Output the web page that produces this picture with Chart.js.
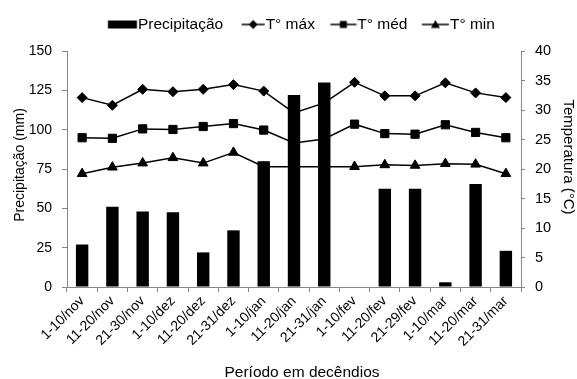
<!DOCTYPE html>
<html><head><meta charset="utf-8">
<script src="https://cdn.jsdelivr.net/npm/chart.js@4"></script>
<style>html,body{margin:0;padding:0;background:#fff;}#wrap{width:577px;height:379px;}</style>
</head><body><div id="wrap"><canvas id="c" width="577" height="379"></canvas></div>
<script>
const categories = ['1-10/nov','11-20/nov','21-30/nov','1-10/dez','11-20/dez','21-31/dez','1-10/jan','11-20/jan','21-31/jan','1-10/fev','11-20/fev','21-29/fev','1-10/mar','11-20/mar','21-31/mar'];
const precipitacao = [27,51,48,47.5,22,36,80,122,130,0,62.5,62.5,3,65.5,23];
const tMax = [32.1,30.8,33.5,33.1,33.5,34.3,33.2,29.5,31.2,34.7,32.4,32.4,34.6,32.9,32.1];
const tMed = [25.3,25.2,26.8,26.7,27.2,27.7,26.6,24.4,25.1,27.6,26.0,25.9,27.5,26.2,25.3];
const tMin = [19.2,20.3,21.0,21.9,21.0,22.8,20.4,20.4,20.4,20.4,20.7,20.6,20.9,20.8,19.2];
const seriesNames = ['Precipitação','T° máx','T° méd','T° min'];
const precipTicks = {min:0, max:150, step:25};
const tempTicks = {min:0, max:40, step:5};

const FONT = 'Liberation Sans, Arial, sans-serif';
const AXIS = '#868686';
const LEG_FS = 15.5;
const P_W = 16;          // legend pointStyleWidth
const IMG_W = 80, IMG_H = 16;
const CONTENT_END = IMG_W/2 + P_W/2 + LEG_FS/2 - 1;

function legendImg(kind, w){
  const c = document.createElement('canvas');
  c.width = IMG_W; c.height = IMG_H;
  const g = c.getContext('2d');
  g.fillStyle = '#000'; g.strokeStyle = '#000';
  if (kind === 'bar') {
    g.fillRect(CONTENT_END - w, 4, w, 8);
  } else {
    const s = CONTENT_END - w, cx = s + w/2, cy = 8;
    g.lineWidth = 1.5;
    g.beginPath(); g.moveTo(s, cy); g.lineTo(CONTENT_END, cy); g.stroke();
    g.beginPath();
    if (kind === 'diamond') { g.moveTo(cx, cy-4.5); g.lineTo(cx+4.5, cy); g.lineTo(cx, cy+4.5); g.lineTo(cx-4.5, cy); }
    else if (kind === 'square') { g.rect(cx-3.5, cy-3.5, 7, 7); }
    else { g.moveTo(cx, cy-4.5); g.lineTo(cx+4.5, cy+3.5); g.lineTo(cx-4.5, cy+3.5); }
    g.closePath(); g.fill();
  }
  return c;
}
const legendImgs = [legendImg('bar',29), legendImg('diamond',23), legendImg('square',26), legendImg('triangle',27)];

const LEG_H = 51, LEG_SHIFT = 16, LEG_UP = 2;
function shiftTitle(scale, dx, dy){
  if (scale._titleShifted) return;
  scale._titleShifted = true;
  const orig = scale.drawTitle.bind(scale);
  scale.drawTitle = function(){
    const ctx = this.ctx; ctx.save(); ctx.translate(dx, dy); orig(); ctx.restore();
  };
}
const layoutFix = {
  id: 'layoutFix',
  afterInit(chart){
    const lg = chart.legend;
    const fit = lg.fit.bind(lg);
    lg.fit = function(){ fit(); this.height = LEG_H; };
  },
  afterLayout(chart){
    chart.legend.left += LEG_SHIFT; chart.legend.right += LEG_SHIFT; chart.legend.top -= LEG_UP;
    shiftTitle(chart.scales.x, 8, 1);
    shiftTitle(chart.scales.y, 0, -4);
    shiftTitle(chart.scales.y1, 5, -12);
  }
};

const lineDs = (label, data, style, radius) => ({
  type:'line', label, data, yAxisID:'y1', order:1,
  borderColor:'#000', borderWidth:1.5, tension:0,
  pointStyle: style, pointRadius: radius, pointHoverRadius: radius,
  pointBackgroundColor:'#000', pointBorderColor:'#000', pointBorderWidth:1
});

new Chart(document.getElementById('c'), {
  type:'bar',
  data:{
    labels: categories,
    datasets:[
      {type:'bar', label:seriesNames[0], data:precipitacao, yAxisID:'y', order:0,
       backgroundColor:'#000', borderWidth:0, categoryPercentage:1, barPercentage:0.41},
      lineDs(seriesNames[1], tMax, 'rectRot', 5),
      lineDs(seriesNames[2], tMed, 'rect', 5.8),
      lineDs(seriesNames[3], tMin, 'triangle', 5.6)
    ]
  },
  options:{
    responsive:false, animation:false, devicePixelRatio:1,
    layout:{padding:{left:0,right:0,top:0,bottom:0}},
    plugins:{
      tooltip:{enabled:false},
      legend:{
        position:'top', align:'center',
        labels:{
          usePointStyle:true, pointStyleWidth:P_W, padding:18.7, color:'#000',
          font:{family:FONT, size:LEG_FS},
          generateLabels(chart){
            const items = Chart.defaults.plugins.legend.labels.generateLabels(chart);
            items.forEach(it => { it.pointStyle = legendImgs[it.datasetIndex]; });
            return items;
          }
        }
      }
    },
    scales:{
      x:{
        offset:true,
        grid:{offset:true, drawOnChartArea:false, tickLength:5, color:AXIS},
        border:{color:AXIS},
        ticks:{font:{family:FONT,size:14}, color:'#000', minRotation:45, maxRotation:45, autoSkip:false, padding:1},
        title:{display:true, text:'Período em decêndios', color:'#000', font:{family:FONT,size:15.5,lineHeight:1}, padding:0},
        afterFit(s){ s.height = 92; }
      },
      y:{
        position:'left', min:precipTicks.min, max:precipTicks.max,
        ticks:{stepSize:precipTicks.step, font:{family:FONT,size:14}, color:'#000', padding:10},
        grid:{drawOnChartArea:false, tickLength:5, color:AXIS},
        border:{color:AXIS},
        title:{display:true, text:'Precipitação (mm)', color:'#000', font:{family:FONT,size:14}, padding:{top:12,bottom:0}},
        afterFit(s){ s.width = 67; }
      },
      y1:{
        position:'right', min:tempTicks.min, max:tempTicks.max,
        ticks:{stepSize:tempTicks.step, font:{family:FONT,size:14.5}, color:'#000', padding:10},
        grid:{drawOnChartArea:false, tickLength:4, color:AXIS},
        border:{color:AXIS},
        title:{display:true, text:'Temperatura (°C)', color:'#000', font:{family:FONT,size:15}, padding:{top:5,bottom:0}},
        afterFit(s){ s.width = 56; }
      }
    }
  },
  plugins:[layoutFix]
});
</script></body></html>
